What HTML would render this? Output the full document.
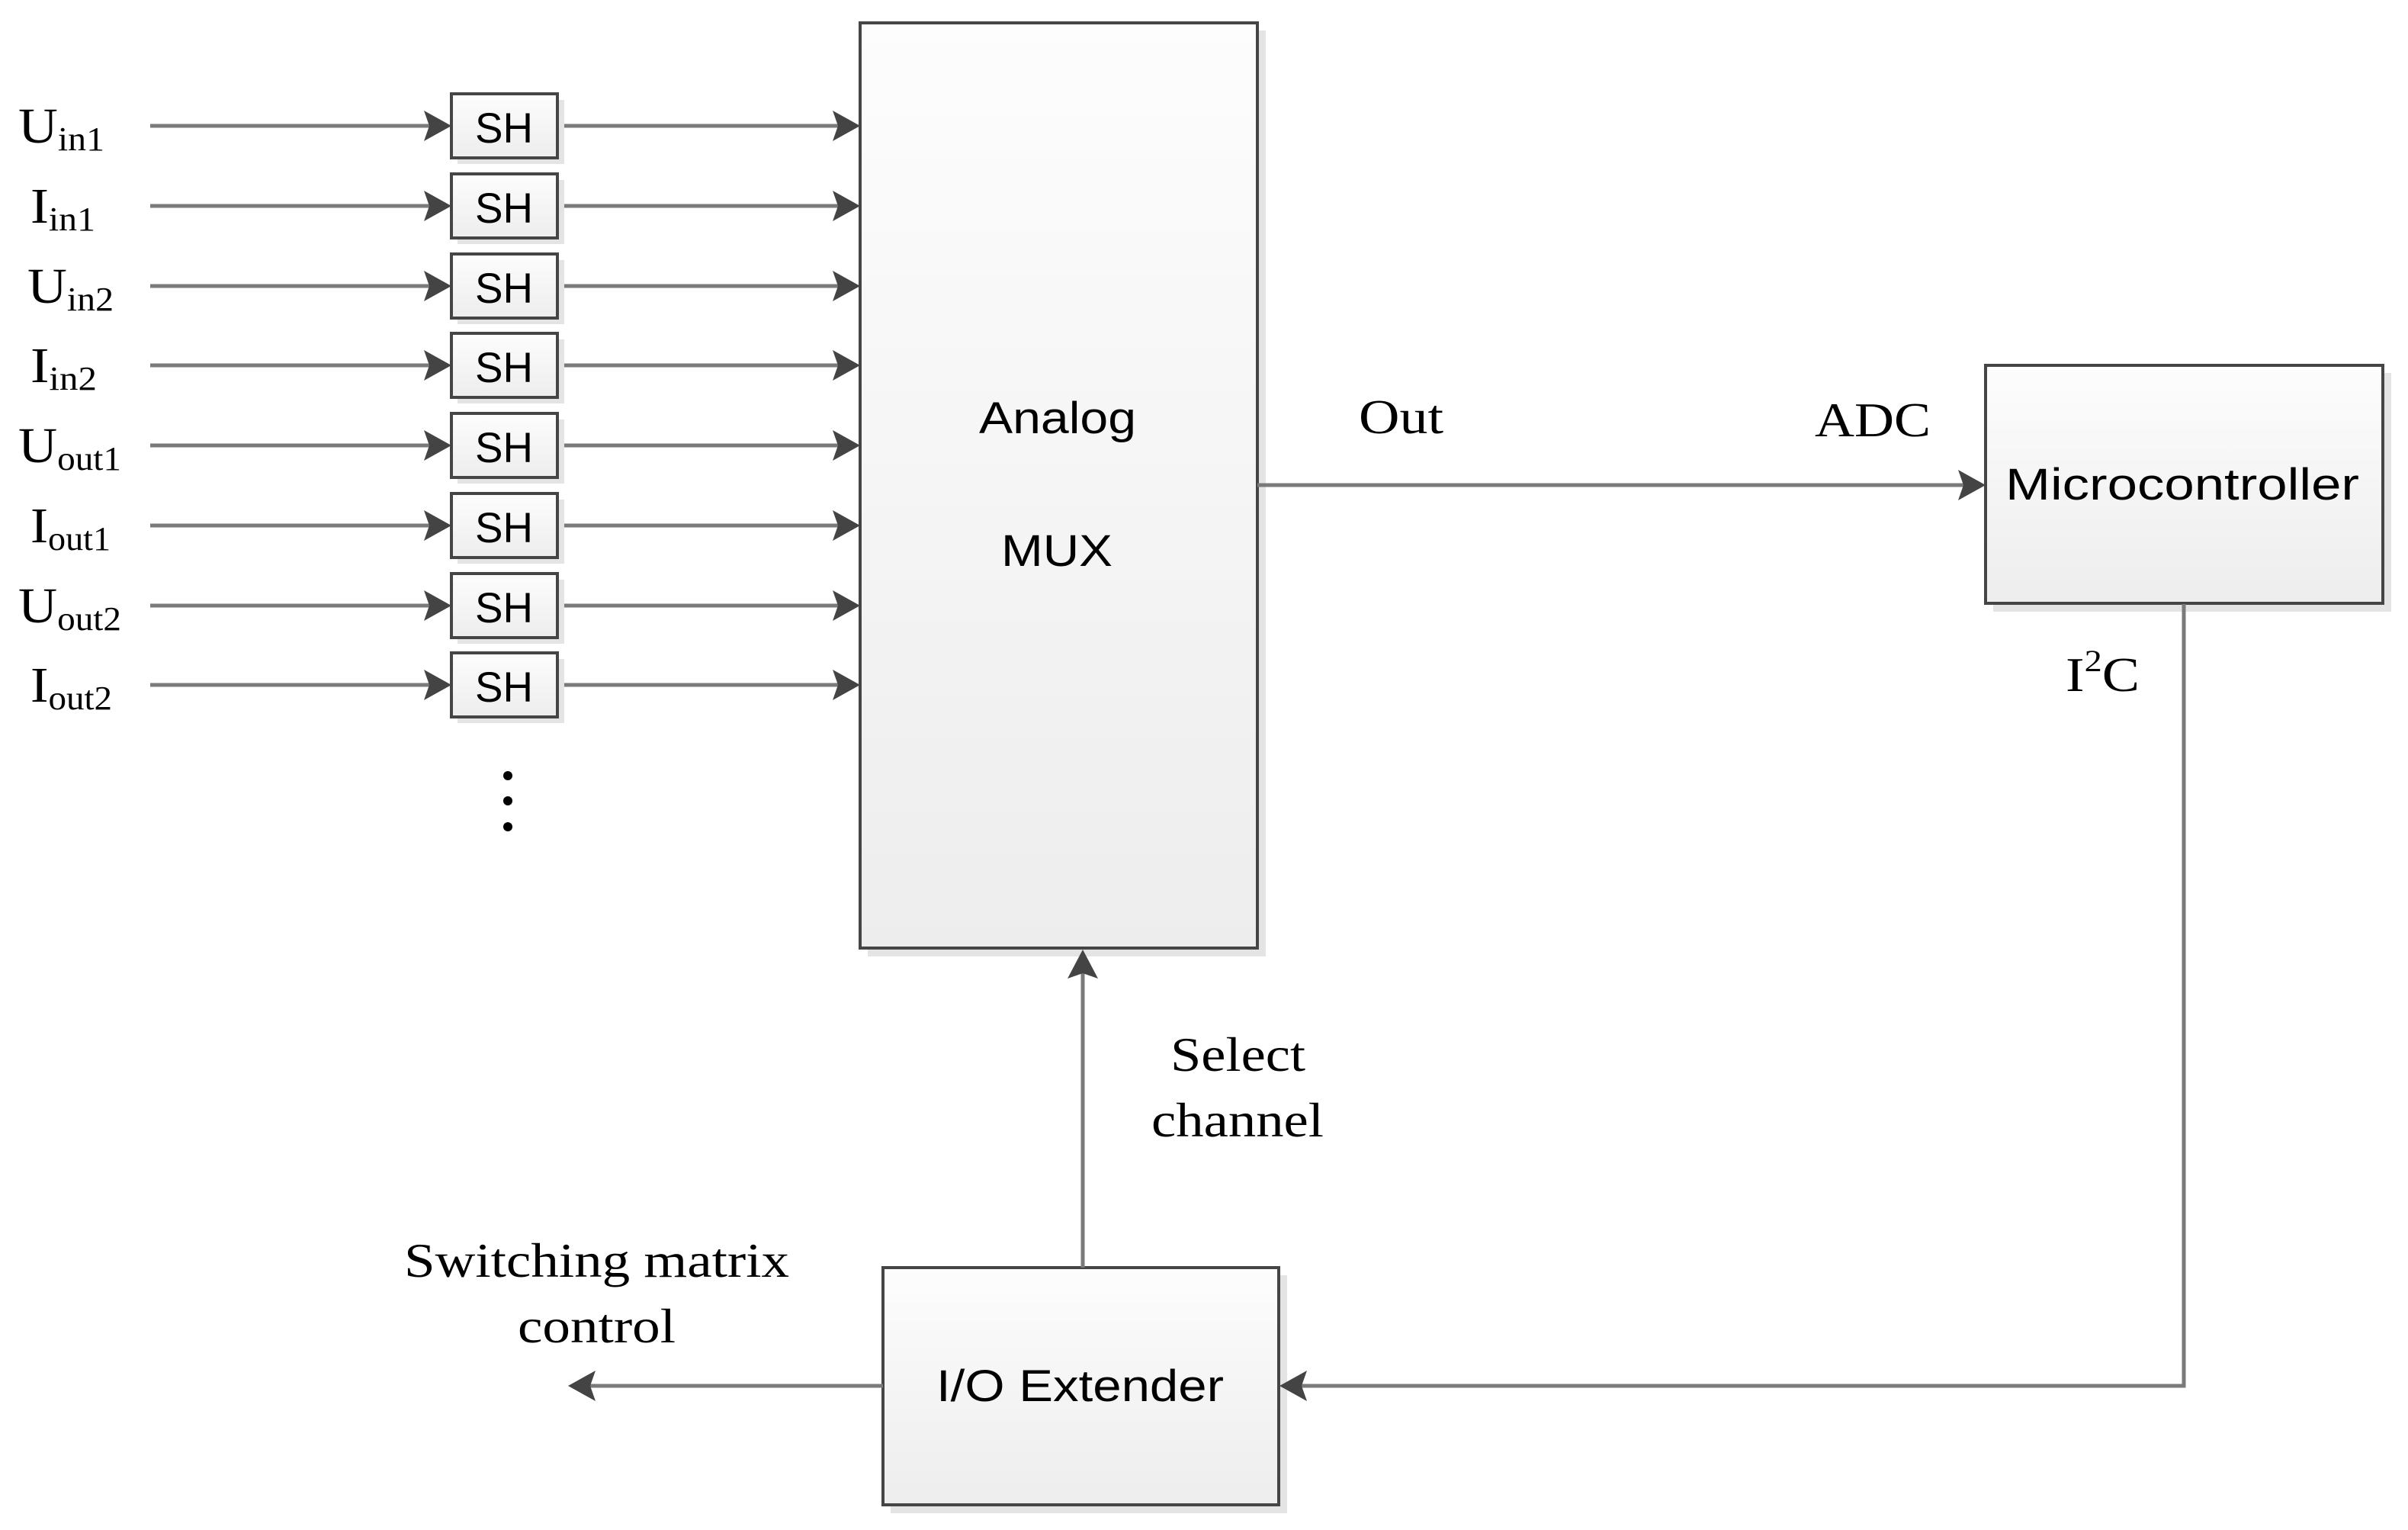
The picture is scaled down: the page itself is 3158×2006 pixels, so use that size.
<!DOCTYPE html>
<html><head><meta charset="utf-8"><style>html,body{margin:0;padding:0;background:#fff}svg{display:block}</style></head>
<body>
<svg width="3158" height="2006" viewBox="0 0 3158 2006" xmlns="http://www.w3.org/2000/svg">
<defs>
<linearGradient id="g" x1="0" y1="0" x2="0" y2="1"><stop offset="0" stop-color="#fdfdfd"/><stop offset="1" stop-color="#ededed"/></linearGradient>
</defs>
<g font-family="Liberation Serif, serif" fill="#000">
<!-- rows -->
<g id="rows">
</g>
</g>
<!-- MUX -->
<rect x="1138" y="40" width="522" height="1214" fill="#e4e4e4"/>
<rect x="1128" y="30" width="521" height="1213" fill="url(#g)" stroke="#454545" stroke-width="4"/>
<!-- Microcontroller -->
<rect x="2614" y="489" width="522" height="313" fill="#e4e4e4"/>
<rect x="2604" y="479" width="521" height="312" fill="url(#g)" stroke="#454545" stroke-width="4"/>
<!-- IO -->
<rect x="1168" y="1672" width="520" height="312" fill="#e4e4e4"/>
<rect x="1158" y="1662" width="519" height="311" fill="url(#g)" stroke="#454545" stroke-width="4"/>

<g stroke="#7a7a7a" stroke-width="5" fill="none">
<line x1="1649" y1="636" x2="2580" y2="636"/>
<polyline points="2864,792 2864,1817 1700,1817"/>
<line x1="1420" y1="1662" x2="1420" y2="1268"/>
<line x1="1158" y1="1817" x2="770" y2="1817"/>
</g>
<g fill="#444">
<polygon points="2604,636 2568,616 2575,636 2568,656"/>
<polygon points="1678,1817 1714,1797 1707,1817 1714,1837"/>
<polygon points="1420,1245 1400,1283 1420,1276 1440,1283"/>
<polygon points="745,1817 781,1797 774,1817 781,1837"/>
</g>

<g font-family="Liberation Serif, serif" font-size="64" fill="#000">
<text x="1782" y="568" textLength="111" lengthAdjust="spacingAndGlyphs">Out</text>
<text x="2380" y="572" textLength="152" lengthAdjust="spacingAndGlyphs">ADC</text>
<text x="2709" y="906" textLength="97" lengthAdjust="spacingAndGlyphs">I<tspan font-size="40" dy="-26">2</tspan><tspan dy="26">C</tspan></text>
<text x="1535" y="1404" textLength="177" lengthAdjust="spacingAndGlyphs">Select</text>
<text x="1510" y="1490" textLength="226" lengthAdjust="spacingAndGlyphs">channel</text>
<text x="530" y="1674" textLength="505" lengthAdjust="spacingAndGlyphs">Switching matrix</text>
<text x="679" y="1760" textLength="207" lengthAdjust="spacingAndGlyphs">control</text>
</g>
<g font-family="Liberation Sans, sans-serif" font-size="58" fill="#000">
<text x="1284" y="568" textLength="206" lengthAdjust="spacingAndGlyphs">Analog</text>
<text x="1313" y="742" textLength="146" lengthAdjust="spacingAndGlyphs">MUX</text>
<text x="2630" y="655" textLength="464" lengthAdjust="spacingAndGlyphs">Microcontroller</text>
<text x="1228" y="1837" textLength="377" lengthAdjust="spacingAndGlyphs">I/O Extender</text>
</g>
<g fill="#000">
<circle cx="666" cy="1017" r="6"/><circle cx="666" cy="1050" r="6"/><circle cx="666" cy="1084" r="6"/>
</g>

<!-- SH rows -->
<g>
<!-- generated manually for 8 rows -->
<g transform="translate(0,165)">
<line x1="197" y1="0" x2="570" y2="0" stroke="#7a7a7a" stroke-width="5"/><polygon points="592,0 556,-20 563,0 556,20" fill="#444"/>
<line x1="731" y1="0" x2="1106" y2="0" stroke="#7a7a7a" stroke-width="5"/><polygon points="1128,0 1092,-20 1099,0 1092,20" fill="#444"/>
<rect x="600" y="-34" width="140" height="84" fill="#e4e4e4"/><rect x="592" y="-42" width="139" height="84" fill="url(#g)" stroke="#454545" stroke-width="4"/>
<text x="623" y="22" font-family="Liberation Sans, sans-serif" font-size="56" textLength="76" lengthAdjust="spacingAndGlyphs">SH</text>
<text x="24" y="22" font-family="Liberation Serif, serif" font-size="66" textLength="113" lengthAdjust="spacingAndGlyphs">U<tspan font-size="44" dy="10">in1</tspan></text>
</g>
<g transform="translate(0,270)">
<line x1="197" y1="0" x2="570" y2="0" stroke="#7a7a7a" stroke-width="5"/><polygon points="592,0 556,-20 563,0 556,20" fill="#444"/>
<line x1="731" y1="0" x2="1106" y2="0" stroke="#7a7a7a" stroke-width="5"/><polygon points="1128,0 1092,-20 1099,0 1092,20" fill="#444"/>
<rect x="600" y="-34" width="140" height="84" fill="#e4e4e4"/><rect x="592" y="-42" width="139" height="84" fill="url(#g)" stroke="#454545" stroke-width="4"/>
<text x="623" y="22" font-family="Liberation Sans, sans-serif" font-size="56" textLength="76" lengthAdjust="spacingAndGlyphs">SH</text>
<text x="40" y="22" font-family="Liberation Serif, serif" font-size="66" textLength="85" lengthAdjust="spacingAndGlyphs">I<tspan font-size="44" dy="10">in1</tspan></text>
</g>
<g transform="translate(0,375)">
<line x1="197" y1="0" x2="570" y2="0" stroke="#7a7a7a" stroke-width="5"/><polygon points="592,0 556,-20 563,0 556,20" fill="#444"/>
<line x1="731" y1="0" x2="1106" y2="0" stroke="#7a7a7a" stroke-width="5"/><polygon points="1128,0 1092,-20 1099,0 1092,20" fill="#444"/>
<rect x="600" y="-34" width="140" height="84" fill="#e4e4e4"/><rect x="592" y="-42" width="139" height="84" fill="url(#g)" stroke="#454545" stroke-width="4"/>
<text x="623" y="22" font-family="Liberation Sans, sans-serif" font-size="56" textLength="76" lengthAdjust="spacingAndGlyphs">SH</text>
<text x="36" y="22" font-family="Liberation Serif, serif" font-size="66" textLength="113" lengthAdjust="spacingAndGlyphs">U<tspan font-size="44" dy="10">in2</tspan></text>
</g>
<g transform="translate(0,479)">
<line x1="197" y1="0" x2="570" y2="0" stroke="#7a7a7a" stroke-width="5"/><polygon points="592,0 556,-20 563,0 556,20" fill="#444"/>
<line x1="731" y1="0" x2="1106" y2="0" stroke="#7a7a7a" stroke-width="5"/><polygon points="1128,0 1092,-20 1099,0 1092,20" fill="#444"/>
<rect x="600" y="-34" width="140" height="84" fill="#e4e4e4"/><rect x="592" y="-42" width="139" height="84" fill="url(#g)" stroke="#454545" stroke-width="4"/>
<text x="623" y="22" font-family="Liberation Sans, sans-serif" font-size="56" textLength="76" lengthAdjust="spacingAndGlyphs">SH</text>
<text x="40" y="22" font-family="Liberation Serif, serif" font-size="66" textLength="87" lengthAdjust="spacingAndGlyphs">I<tspan font-size="44" dy="10">in2</tspan></text>
</g>
<g transform="translate(0,584)">
<line x1="197" y1="0" x2="570" y2="0" stroke="#7a7a7a" stroke-width="5"/><polygon points="592,0 556,-20 563,0 556,20" fill="#444"/>
<line x1="731" y1="0" x2="1106" y2="0" stroke="#7a7a7a" stroke-width="5"/><polygon points="1128,0 1092,-20 1099,0 1092,20" fill="#444"/>
<rect x="600" y="-34" width="140" height="84" fill="#e4e4e4"/><rect x="592" y="-42" width="139" height="84" fill="url(#g)" stroke="#454545" stroke-width="4"/>
<text x="623" y="22" font-family="Liberation Sans, sans-serif" font-size="56" textLength="76" lengthAdjust="spacingAndGlyphs">SH</text>
<text x="24" y="22" font-family="Liberation Serif, serif" font-size="66" textLength="135" lengthAdjust="spacingAndGlyphs">U<tspan font-size="44" dy="10">out1</tspan></text>
</g>
<g transform="translate(0,689)">
<line x1="197" y1="0" x2="570" y2="0" stroke="#7a7a7a" stroke-width="5"/><polygon points="592,0 556,-20 563,0 556,20" fill="#444"/>
<line x1="731" y1="0" x2="1106" y2="0" stroke="#7a7a7a" stroke-width="5"/><polygon points="1128,0 1092,-20 1099,0 1092,20" fill="#444"/>
<rect x="600" y="-34" width="140" height="84" fill="#e4e4e4"/><rect x="592" y="-42" width="139" height="84" fill="url(#g)" stroke="#454545" stroke-width="4"/>
<text x="623" y="22" font-family="Liberation Sans, sans-serif" font-size="56" textLength="76" lengthAdjust="spacingAndGlyphs">SH</text>
<text x="40" y="22" font-family="Liberation Serif, serif" font-size="66" textLength="105" lengthAdjust="spacingAndGlyphs">I<tspan font-size="44" dy="10">out1</tspan></text>
</g>
<g transform="translate(0,794)">
<line x1="197" y1="0" x2="570" y2="0" stroke="#7a7a7a" stroke-width="5"/><polygon points="592,0 556,-20 563,0 556,20" fill="#444"/>
<line x1="731" y1="0" x2="1106" y2="0" stroke="#7a7a7a" stroke-width="5"/><polygon points="1128,0 1092,-20 1099,0 1092,20" fill="#444"/>
<rect x="600" y="-34" width="140" height="84" fill="#e4e4e4"/><rect x="592" y="-42" width="139" height="84" fill="url(#g)" stroke="#454545" stroke-width="4"/>
<text x="623" y="22" font-family="Liberation Sans, sans-serif" font-size="56" textLength="76" lengthAdjust="spacingAndGlyphs">SH</text>
<text x="24" y="22" font-family="Liberation Serif, serif" font-size="66" textLength="135" lengthAdjust="spacingAndGlyphs">U<tspan font-size="44" dy="10">out2</tspan></text>
</g>
<g transform="translate(0,898)">
<line x1="197" y1="0" x2="570" y2="0" stroke="#7a7a7a" stroke-width="5"/><polygon points="592,0 556,-20 563,0 556,20" fill="#444"/>
<line x1="731" y1="0" x2="1106" y2="0" stroke="#7a7a7a" stroke-width="5"/><polygon points="1128,0 1092,-20 1099,0 1092,20" fill="#444"/>
<rect x="600" y="-34" width="140" height="84" fill="#e4e4e4"/><rect x="592" y="-42" width="139" height="84" fill="url(#g)" stroke="#454545" stroke-width="4"/>
<text x="623" y="22" font-family="Liberation Sans, sans-serif" font-size="56" textLength="76" lengthAdjust="spacingAndGlyphs">SH</text>
<text x="40" y="22" font-family="Liberation Serif, serif" font-size="66" textLength="107" lengthAdjust="spacingAndGlyphs">I<tspan font-size="44" dy="10">out2</tspan></text>
</g>
</g>
</svg>
</body></html>
